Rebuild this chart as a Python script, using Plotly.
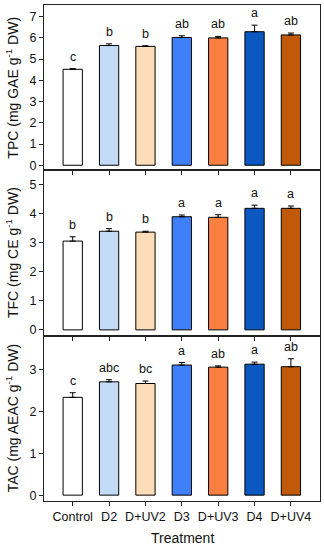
import plotly.graph_objects as go
from plotly.subplots import make_subplots

categories = ["Control", "D2", "D+UV2", "D3", "D+UV3", "D4", "D+UV4"]
colors = ["#ffffff", "#c2dcf8", "#fddcb8", "#3f80f8", "#f98040", "#0a58c0", "#c05a08"]

tpc = [4.52, 5.64, 5.60, 6.02, 6.00, 6.29, 6.14]
tpc_err = [0.03, 0.08, 0.03, 0.08, 0.07, 0.31, 0.09]
tpc_letters = ["c", "b", "b", "ab", "ab", "a", "ab"]

tfc = [3.06, 3.40, 3.37, 3.90, 3.88, 4.19, 4.19]
tfc_err = [0.15, 0.09, 0.03, 0.06, 0.09, 0.11, 0.08]
tfc_letters = ["b", "b", "b", "a", "a", "a", "a"]

tac = [2.33, 2.70, 2.66, 3.10, 3.05, 3.12, 3.06]
tac_err = [0.11, 0.05, 0.06, 0.06, 0.03, 0.05, 0.19]
tac_letters = ["c", "abc", "bc", "a", "ab", "a", "ab"]

panels = [
    (tpc, tpc_err, tpc_letters, "TPC (mg GAE g<sup>-1</sup> DW)", [-0.24, 7.55]),
    (tfc, tfc_err, tfc_letters, "TFC (mg CE g<sup>-1</sup> DW)", [-0.2, 5.5]),
    (tac, tac_err, tac_letters, "TAC (mg AEAC g<sup>-1</sup> DW)", [-0.14, 3.8]),
]

W, H = 324, 550
L, R, T, B = 44, 4, 5, 49
plot_w = W - L - R
plot_h = H - T - B

fig = make_subplots(rows=3, cols=1, shared_xaxes=True, vertical_spacing=0)
font = "Liberation Sans, Arial, sans-serif"
txt = "#111111"
axc = "#222222"

for i, (vals, errs, letters, title, yr) in enumerate(panels, start=1):
    fig.add_trace(go.Bar(
        x=categories, y=vals, width=0.53,
        marker=dict(color=colors, line=dict(color="#000000", width=1)),
        error_y=dict(type="data", symmetric=False, array=errs,
                     arrayminus=[0] * len(errs), color="#000000",
                     thickness=1, width=3),
        showlegend=False,
    ), row=i, col=1)
    for c, v, e, l in zip(categories, vals, errs, letters):
        fig.add_annotation(x=c, y=v + e, text=l, showarrow=False,
                           yanchor="bottom", yshift=3,
                           font=dict(size=12.5, color=txt, family=font),
                           row=i, col=1)
    fig.update_yaxes(range=yr, dtick=1, showgrid=False, zeroline=False,
                     showline=True, linecolor=axc, linewidth=1,
                     mirror=True, ticks="outside", ticklen=4,
                     tickcolor=axc, automargin=False,
                     tickfont=dict(size=12.5, color=txt, family=font),
                     row=i, col=1)
    fig.update_xaxes(range=[-0.79, 6.8], showgrid=False, zeroline=False,
                     showline=True, linecolor=axc, linewidth=1,
                     mirror=True, ticks="outside", ticklen=4,
                     tickcolor=axc, automargin=False,
                     showticklabels=(i == 3),
                     tickfont=dict(size=12.5, color=txt, family=font),
                     row=i, col=1)
    yc_px = T + plot_h * (i - 0.5) / 3
    fig.add_annotation(xref="paper", yref="paper",
                       x=(12 - L) / plot_w, y=1 - (yc_px - T) / plot_h,
                       text=title, textangle=-90, showarrow=False,
                       xanchor="center", yanchor="middle",
                       font=dict(size=14, color=txt, family=font))

fig.add_annotation(xref="paper", yref="paper",
                   x=(182 - L) / plot_w, y=-(538 - (T + plot_h)) / plot_h,
                   text="Treatment", showarrow=False,
                   xanchor="center", yanchor="middle",
                   font=dict(size=14, color=txt, family=font))

fig.update_layout(
    width=W, height=H,
    margin=dict(l=L, r=R, t=T, b=B),
    paper_bgcolor="white", plot_bgcolor="white",
    bargap=0.47,
)

fig.write_html("out.html",
               config={"displayModeBar": False, "staticPlot": True},
               post_script="document.body.style.margin='0px';document.body.style.padding='0px';")
